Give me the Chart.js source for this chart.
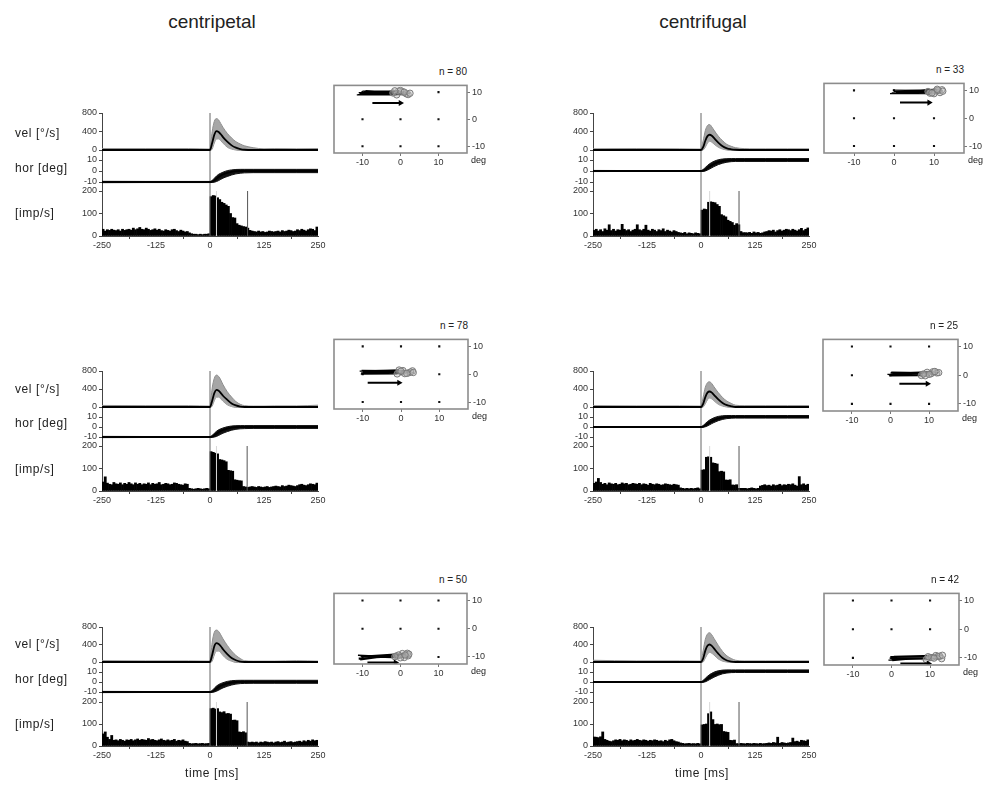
<!DOCTYPE html>
<html>
<head>
<meta charset="utf-8">
<script src="https://cdn.jsdelivr.net/npm/chart.js@4.4.1/dist/chart.umd.min.js"></script>
<style>
  body { margin: 0; background: #fff; width: 989px; height: 785px; position: relative; overflow: hidden;
         font-family: "Liberation Sans", Arial, sans-serif; color: #222; }
  canvas { position: absolute; }
  .lbl { position: absolute; white-space: nowrap; }
</style>
</head>
<body>
<script>
// ---- data ----
const titles = ["centripetal", "centrifugal"];
const nTrials = [80, 33, 78, 25, 50, 42];

const timeGrid = [-250, -150, -50, 0, 5, 10, 15, 20, 25, 30, 40, 50, 60, 70, 80, 100, 125, 150, 200, 250];
const timeTicks = [-250, -125, 0, 125, 250];
const velTicks = [0, 400, 800];
const horTicks = [-10, 0, 10];
const rateTicks = [0, 100, 200];
const fieldTicks = [-10, 0, 10];
const gridX = [-10, 0, 10];
const gridY = [10, 0, -10];
const binStart = -250;
const binMs = 5;

// eye velocity (deg/s): mean and spread of single traces
const velMeanCp1 = [0,0,0,0,150,330,410,390,340,280,180,100,50,20,5,0,0,0,0,0];
const velHiCp1 = [30,30,30,20,400,620,680,650,570,490,360,260,180,130,90,50,25,30,25,30];
const velLoCp1 = [-10,-10,-10,-10,20,150,240,240,200,150,60,20,0,-10,-10,-10,-10,-10,-10,-10];
const velMeanCf1 = [0,0,0,0,60,200,300,330,310,260,160,80,35,15,5,0,0,0,0,0];
const velHiCf1 = [25,30,25,20,200,420,530,550,500,430,300,200,120,80,50,30,25,25,25,25];
const velLoCf1 = [-10,-10,-10,-10,0,60,150,190,170,130,60,20,0,-10,-10,-10,-10,-10,-10,-10];
const velMeanCp2 = [0,0,0,0,140,310,380,360,310,250,160,80,35,10,0,0,0,0,0,0];
const velHiCp2 = [35,30,30,20,420,640,710,680,600,500,340,220,120,60,30,20,20,25,25,40];
const velLoCp2 = [-10,-10,-10,-10,20,140,220,220,180,130,50,10,-10,-10,-10,-10,-10,-10,-10,-10];
const velMeanCf2 = [0,0,0,0,70,220,320,345,320,270,170,90,40,15,0,0,0,0,0,0];
const velHiCf2 = [30,25,25,20,220,440,540,560,520,450,320,210,130,80,40,30,30,30,30,30];
const velLoCf2 = [-10,-10,-10,-10,0,70,160,200,180,140,60,20,0,-10,-10,-10,-10,-10,-10,-10];
const velMeanCp3 = [0,0,0,0,160,360,430,410,360,290,180,90,40,10,0,0,0,0,0,0];
const velHiCp3 = [30,25,25,20,450,680,730,700,620,530,380,250,150,80,30,20,20,20,30,20];
const velLoCp3 = [-10,-10,-10,-10,20,160,250,250,210,150,60,20,-10,-10,-10,-10,-10,-10,-10,-10];
const velMeanCf3 = [0,0,0,0,80,260,370,400,370,310,190,90,35,10,0,0,0,0,0,0];
const velHiCf3 = [40,25,25,20,260,520,640,670,620,540,380,240,140,80,40,25,25,25,25,25];
const velLoCf3 = [-10,-10,-10,-10,0,90,180,220,200,160,70,20,0,-10,-10,-10,-10,-10,-10,-10];

// horizontal eye position (deg)
const horMeanCp1 = [-10,-10,-10,-10,-9.6,-8.5,-7,-5.5,-4.2,-3.2,-1.8,-0.8,-0.2,0,0,0,0,0,0,0];
const horHiCp1 = [-9.4,-9.5,-9.5,-9.5,-8.6,-6.6,-4.6,-3,-2,-1.1,0.3,1,1.4,1.5,1.5,1.5,1.5,1.5,1.5,1.5];
const horLoCp1 = [-10.6,-10.5,-10.5,-10.5,-10.4,-10.2,-9.6,-8.7,-7.6,-6.5,-5,-3.6,-2.6,-2,-1.7,-1.5,-1.5,-1.5,-1.5,-1.5];
const horMeanCf1 = [0,0,0,0,0.3,1.2,2.6,4,5.3,6.4,8,9,9.6,9.9,10,10,10,10,10,10];
const horHiCf1 = [0.5,0.4,0.4,0.4,1.4,3.2,5,6.6,7.8,8.8,10.2,10.9,11.2,11.3,11.3,11.3,11.3,11.3,11.3,11.3];
const horLoCf1 = [-0.5,-0.4,-0.4,-0.4,-0.4,0,0.8,1.8,2.9,4,5.8,7.1,8,8.5,8.7,8.7,8.7,8.7,8.7,8.7];
const horMeanCp2 = [-10,-10,-10,-10,-9.5,-8.3,-6.8,-5.3,-4,-3,-1.6,-0.7,-0.2,0,0,0,0,0,0,0];
const horHiCp2 = [-9.4,-9.5,-9.5,-9.5,-8.4,-6.3,-4.3,-2.8,-1.8,-1,0.3,1,1.3,1.4,1.4,1.4,1.4,1.4,1.4,1.4];
const horLoCp2 = [-10.6,-10.5,-10.5,-10.5,-10.4,-10.1,-9.4,-8.4,-7.3,-6.2,-4.6,-3.2,-2.3,-1.8,-1.6,-1.4,-1.4,-1.4,-1.4,-1.4];
const horMeanCf2 = [0,0,0,0,0.4,1.5,3,4.5,5.8,6.9,8.5,9.4,9.9,10.1,10.2,10.2,10.2,10.2,10.2,10.2];
const horHiCf2 = [0.5,0.4,0.4,0.4,1.5,3.5,5.4,7,8.2,9.2,10.6,11.2,11.5,11.5,11.5,11.5,11.5,11.5,11.5,11.5];
const horLoCf2 = [-0.5,-0.4,-0.4,-0.4,-0.3,0.2,1.1,2.2,3.4,4.5,6.3,7.6,8.4,8.8,8.9,8.9,8.9,8.9,8.9,8.9];
const horMeanCp3 = [-10,-10,-10,-10,-9.5,-8.2,-6.6,-5,-3.8,-2.8,-1.4,-0.5,0,0.2,0.2,0.2,0.2,0.2,0.2,0.2];
const horHiCp3 = [-9.4,-9.5,-9.5,-9.5,-8.4,-6.2,-4.1,-2.5,-1.5,-0.7,0.6,1.3,1.6,1.7,1.7,1.7,1.7,1.7,1.7,1.7];
const horLoCp3 = [-10.6,-10.5,-10.5,-10.5,-10.4,-10,-9.2,-8.2,-7,-5.9,-4.3,-3,-2.1,-1.6,-1.4,-1.3,-1.3,-1.3,-1.3,-1.3];
const horMeanCf3 = [0,0,0,0,0.4,1.6,3.2,4.8,6.2,7.4,9,10,10.5,10.7,10.8,10.8,10.8,10.8,10.8,10.8];
const horHiCf3 = [0.5,0.4,0.4,0.4,1.6,3.7,5.7,7.4,8.7,9.8,11.2,11.9,12.1,12.1,12.1,12.1,12.1,12.1,12.1,12.1];
const horLoCf3 = [-0.5,-0.4,-0.4,-0.4,-0.3,0.2,1.2,2.4,3.6,4.8,6.7,8.2,9,9.4,9.5,9.5,9.5,9.5,9.5,9.5];

// firing rate (imp/s), 5 ms bins from -250 to 250
const rateCp1 = [30,22,28,25,30,26,24,28,22,30, 25,28,30,26,35,28,32,38,30,28,
  35,30,25,28,32,26,30,24,22,28, 25,22,28,30,24,20,26,22,18,20,
  14,10,8,8,6,8,6,8,8,10, 175,180,178,170,162,150,145,138,132,100,
  82,80,55,48,45,42,40,35,25,22, 20,18,22,18,20,16,18,22,20,18,
  20,22,18,24,20,22,26,24,20,22, 28,24,30,26,22,28,32,30,24,40];
const rateCf1 = [25,30,22,28,20,32,26,50,24,30, 22,28,26,52,30,24,28,20,26,30,
  50,28,24,30,48,26,22,30,26,20, 28,24,32,20,26,22,18,24,20,16,
  14,12,16,10,14,12,10,14,12,10, 115,120,118,150,152,150,148,140,132,95,
  90,85,70,65,60,48,55,50,20,15, 15,14,16,12,18,14,16,12,14,18,
  20,24,22,26,18,24,28,22,26,30, 28,24,30,26,22,28,34,24,30,36];
const rateCp2 = [40,63,35,30,28,38,32,30,36,28, 34,30,38,32,28,36,30,34,28,32,
  30,36,28,34,30,32,38,28,30,34, 32,28,30,36,34,30,28,26,32,30,
  12,10,8,10,12,10,8,10,12,10, 175,172,168,165,140,138,135,130,92,90,
  88,50,48,46,45,20,18,16,18,20, 18,16,20,18,16,18,20,16,18,20,
  22,20,18,24,20,22,26,24,22,20, 24,28,30,26,24,28,32,30,28,35];
const rateCf2 = [34,40,56,38,30,34,28,36,32,30, 34,28,30,36,32,34,28,30,34,32,
  30,34,28,32,30,26,34,30,28,32, 30,26,28,32,30,28,26,30,28,26,
  14,12,10,12,10,12,10,12,14,10, 93,95,150,152,150,125,123,120,86,88,
  85,49,48,50,27,26,28,12,12,12, 12,10,12,14,12,10,12,22,25,28,
  24,26,22,28,24,26,30,24,28,26, 30,28,32,26,22,64,28,32,26,30];
const rateCp3 = [55,64,40,30,48,26,28,24,30,26, 22,28,26,30,24,28,32,26,30,28,
  26,34,28,30,26,24,28,32,26,24, 28,24,26,30,22,26,24,28,22,20,
  12,10,11,12,10,11,12,10,11,12, 170,172,168,170,155,152,156,147,148,145,
  117,118,115,64,62,65,60,18,16,18, 16,18,14,18,16,20,18,16,18,14,
  18,20,16,18,22,16,18,20,16,18, 20,22,18,24,20,26,22,28,24,26];
const rateCf3 = [41,40,38,42,64,30,26,22,20,24, 28,26,30,24,28,26,22,28,24,26,
  30,26,24,28,26,22,26,24,28,26, 22,24,20,26,22,28,30,24,20,18,
  14,12,10,11,12,10,11,10,12,10, 96,98,100,147,155,120,98,100,97,98,
  66,64,62,26,25,27,11,10,12,11, 10,12,11,10,12,11,10,12,10,11,
  12,14,12,16,14,40,12,16,14,12, 14,16,36,20,22,18,26,24,22,28];

// marker times (ms): saccade end and peak velocity
const endMark = [87, 88, 86, 88, 86, 88];
const peakMark = [15, 20, 15, 20, 15, 20];

// saccade trajectories in the visual field (deg)
const trajSxCp1 = [-11.5,-11,-10.5,-10,-10.8,-9.6,-11.2,-10.2,-9.2,-10.6];
const trajSyCp1 = [9.0,9.8,9.3,10.4,9.5,10.0,9.1,9.7,10.6,9.4];
const trajExCp1 = [-1,0.5,1.5,-0.5,2,0,-2,1,2.5,-1.5];
const trajEyCp1 = [9.0,10.2,9.4,10.4,9.1,10.6,9.7,10.0,9.6,10.5];
const trajSxCf1 = [-1,0,-0.5,0.5,1,-0.8,0.2,0.8,-0.3,0.6];
const trajSyCf1 = [8.8,9.6,9.0,10.0,9.4,8.9,9.8,9.2,10.1,9.5];
const trajExCf1 = [9,10.5,11.5,12,8.5,10,11,9.5,12.2,10.8];
const trajEyCf1 = [9.0,9.8,9.2,10.2,9.6,8.8,10.0,9.1,9.7,10.4];
const trajSxCp2 = [-10.5,-10,-9.8,-10.3,-9.5,-10.8,-10.1,-9.7,-10.4,-9.9];
const trajSyCp2 = [0.0,0.9,0.3,1.4,0.6,1.1,0.2,1.3,0.5,0.9];
const trajExCp2 = [-1,0.5,2,3,1,-0.5,2.5,1.5,0,3.2];
const trajEyCp2 = [0.1,1.3,0.5,1.2,0.2,1.5,0.8,0.3,1.1,0.6];
const trajSxCf2 = [-0.3,0.5,-0.8,0.2,1,0,-0.5,0.7,0.3,-0.2];
const trajSyCf2 = [-0.2,0.7,0.3,1.1,0.0,0.8,0.2,1.0,0.5,-0.1];
const trajExCf2 = [8,9.5,10.5,12,11,9,12.5,10,11.5,8.5];
const trajEyCf2 = [-0.1,1.0,0.5,0.8,1.2,-0.2,0.9,0.3,1.3,0.4];
const trajSxCp3 = [-11,-10.5,-10,-11.2,-9.8,-10.6,-10.2,-11,-9.6,-10.4];
const trajSyCp3 = [-10.8,-9.8,-10.5,-9.4,-10.1,-11,-9.9,-10.4,-10.2,-9.6];
const trajExCp3 = [-1,0.5,2,1,-0.5,1.8,0,2.2,-1.5,1.2];
const trajEyCp3 = [-9.6,-8.8,-9.6,-10.2,-9.3,-8.7,-10.3,-9.0,-9.9,-9.3];
const trajSxCf3 = [-0.8,0,0.5,-0.3,0.8,0.2,-0.5,0.6,0.1,-0.2];
const trajSyCf3 = [-10.8,-10,-10.6,-9.6,-10.2,-11,-10.1,-9.5,-10.5,-10.3];
const trajExCf3 = [10,11.5,13,12,9,12.5,10.5,13.2,11,9.5];
const trajEyCf3 = [-9.9,-9.2,-10.3,-9.5,-10.6,-9.4,-9.9,-9.1,-10.1,-9.6];

// direction arrows: [x0, x1, y]
const arrowCp1 = [-7.4, 0, 6];
const arrowCf1 = [1.5, 8.8, 5.6];
const arrowCp2 = [-8.7, -0.5, -3.1];
const arrowCf2 = [2.3, 9.6, -3];
const arrowCp3 = [-8.7, -1.3, -12];
const arrowCf3 = [2.3, 9.6, -12];

// ---- layout ----
const rows = [
  { velTop: 113, velZero: 150, horTop: 160, horBot: 182, rateTop: 191, rateZero: 236, textY: [133, 168, 213] },
  { velTop: 371, velZero: 407, horTop: 417, horBot: 437, rateTop: 446, rateZero: 491, textY: [389, 423, 469] },
  { velTop: 627, velZero: 662, horTop: 672, horBot: 692, rateTop: 702, rateZero: 746, textY: [644, 679, 724] }
];
const cols = [{ x0: 102, x1: 318 }, { x0: 593, x1: 809 }];
const boxes = [[334, 81, 467, 153], [824, 79, 964, 153], [334, 335, 468, 409],
               [823, 335, 958, 411], [334, 589, 467, 664], [824, 589, 959, 665]];

const panels = [
  { vel: [velMeanCp1, velHiCp1, velLoCp1], hor: [horMeanCp1, horHiCp1, horLoCp1], rate: rateCp1,
    traj: [trajSxCp1, trajSyCp1, trajExCp1, trajEyCp1], arrow: arrowCp1 },
  { vel: [velMeanCf1, velHiCf1, velLoCf1], hor: [horMeanCf1, horHiCf1, horLoCf1], rate: rateCf1,
    traj: [trajSxCf1, trajSyCf1, trajExCf1, trajEyCf1], arrow: arrowCf1 },
  { vel: [velMeanCp2, velHiCp2, velLoCp2], hor: [horMeanCp2, horHiCp2, horLoCp2], rate: rateCp2,
    traj: [trajSxCp2, trajSyCp2, trajExCp2, trajEyCp2], arrow: arrowCp2 },
  { vel: [velMeanCf2, velHiCf2, velLoCf2], hor: [horMeanCf2, horHiCf2, horLoCf2], rate: rateCf2,
    traj: [trajSxCf2, trajSyCf2, trajExCf2, trajEyCf2], arrow: arrowCf2 },
  { vel: [velMeanCp3, velHiCp3, velLoCp3], hor: [horMeanCp3, horHiCp3, horLoCp3], rate: rateCp3,
    traj: [trajSxCp3, trajSyCp3, trajExCp3, trajEyCp3], arrow: arrowCp3 },
  { vel: [velMeanCf3, velHiCf3, velLoCf3], hor: [horMeanCf3, horHiCf3, horLoCf3], rate: rateCf3,
    traj: [trajSxCf3, trajSyCf3, trajExCf3, trajEyCf3], arrow: arrowCf3 }
];

Chart.defaults.font.family = '"Liberation Sans", Arial, sans-serif';
Chart.defaults.font.size = 9;
Chart.defaults.color = '#333';

function addCanvas(x, y, w, h) {
  const c = document.createElement('canvas');
  c.width = w;
  c.height = h;
  c.style.left = x + 'px';
  c.style.top = y + 'px';
  document.body.appendChild(c);
  return c;
}

function addText(str, x, y, size, align, extra) {
  const d = document.createElement('div');
  d.className = 'lbl';
  d.textContent = str;
  d.style.left = x + 'px';
  d.style.top = y + 'px';
  d.style.fontSize = size + 'px';
  const tx = align === 'center' ? '-50%' : align === 'right' ? '-100%' : '0';
  d.style.transform = 'translate(' + tx + ',-50%)';
  if (extra) Object.assign(d.style, extra);
  document.body.appendChild(d);
}

// axis range so that value v1 sits at pixel p1 and v2 at p2, for an area top..bot
function span(top, bot, v1, p1, v2, p2) {
  const k = (v1 - v2) / (p2 - p1);
  return { max: v1 + (p1 - top) * k, min: v2 - (bot - p2) * k };
}

function pts(xs, ys) {
  return xs.map((x, i) => ({ x: x, y: ys[i] }));
}

const AXW = 28;

function timeChart(col, top, bot, range, ticks, datasets, type, showX) {
  // bottom padding keeps the last tick label from squeezing the plot area
  const padT = 8, padR = showX ? 14 : 2, padB = showX ? 0 : 8;
  const xh = showX ? 14 : 0;
  const c = addCanvas(col.x0 - AXW, top - padT, AXW + (col.x1 - col.x0) + padR, padT + (bot - top) + xh + padB);
  return new Chart(c, {
    type: type,
    data: { datasets: datasets },
    options: {
      responsive: false,
      animation: false,
      events: [],
      layout: { autoPadding: false, padding: { top: padT, right: padR, bottom: padB, left: 0 } },
      plugins: { legend: { display: false }, tooltip: { enabled: false } },
      scales: {
        x: {
          type: 'linear', min: -250, max: 250, offset: false, display: showX,
          afterFit: s => { s.height = xh; },
          afterBuildTicks: s => { s.ticks = timeTicks.map(v => ({ value: v })); },
          ticks: { padding: 1, maxRotation: 0 },
          grid: { drawOnChartArea: false, tickLength: 3, color: '#444' },
          border: { color: '#444' }
        },
        y: {
          min: range.min, max: range.max,
          afterFit: s => { s.width = AXW; },
          afterBuildTicks: s => { s.ticks = ticks.map(v => ({ value: v })); },
          ticks: { padding: 2 },
          grid: { drawOnChartArea: false, tickLength: 3, color: '#444' },
          border: { color: '#444' }
        }
      }
    }
  });
}

function traceSets(trio, range, bandColor, lineColor) {
  return [
    { data: pts(timeGrid, trio[0]), borderColor: '#000', borderWidth: 1.8, pointRadius: 0,
      cubicInterpolationMode: 'monotone', order: 0 },
    { data: [{ x: 0, y: range.min }, { x: 0, y: range.max }], borderColor: '#666', borderWidth: 1,
      pointRadius: 0, order: 1 },
    { data: pts(timeGrid, trio[1]), borderColor: lineColor, borderWidth: 1, backgroundColor: bandColor,
      fill: '+1', pointRadius: 0, cubicInterpolationMode: 'monotone', order: 2 },
    { data: pts(timeGrid, trio[2]), borderColor: lineColor, borderWidth: 1, pointRadius: 0,
      cubicInterpolationMode: 'monotone', order: 3 }
  ];
}

const boxPlugin = {
  id: 'fieldBox',
  afterDraw(chart) {
    const a = chart.chartArea, ctx = chart.ctx;
    ctx.save();
    ctx.strokeStyle = '#8c8c8c';
    ctx.lineWidth = 1.6;
    ctx.strokeRect(a.left, a.top, a.right - a.left, a.bottom - a.top);
    ctx.restore();
  }
};

function fieldChart(b, p) {
  const padL = 3, padT = 3, YW = 22, XH = 14;
  const c = addCanvas(b[0] - padL, b[1] - padT, padL + (b[2] - b[0]) + YW, padT + (b[3] - b[1]) + XH);
  const dots = [];
  gridY.forEach(y => gridX.forEach(x => dots.push({ x: x, y: y })));
  const t = p.traj, lines = [], ends = [];
  for (let i = 0; i < t[0].length; i++) {
    lines.push({ x: t[0][i], y: t[1][i] }, { x: t[2][i], y: t[3][i] }, { x: t[2][i], y: null });
    ends.push({ x: t[2][i], y: t[3][i] });
  }
  const a = p.arrow;
  new Chart(c, {
    type: 'scatter',
    data: {
      datasets: [
        { data: [{ x: a[0], y: a[2] }, { x: a[1], y: a[2] }], showLine: true, borderColor: '#000',
          borderWidth: 2, pointRadius: [0, 3.5], pointStyle: 'triangle', rotation: 90,
          pointBackgroundColor: '#000', pointBorderWidth: 0, order: 0 },
        { data: ends, pointRadius: 3.2, pointStyle: 'circle', borderColor: '#7a7a7a', borderWidth: 1,
          backgroundColor: 'rgba(190,190,190,0.45)', order: 1 },
        { data: lines, showLine: true, spanGaps: false, borderColor: '#000', borderWidth: 1.3,
          pointRadius: 0, order: 2 },
        { data: dots, pointStyle: 'rect', pointRadius: 1.5, backgroundColor: '#111', borderWidth: 0, order: 3 }
      ]
    },
    options: {
      responsive: false,
      animation: false,
      events: [],
      layout: { autoPadding: false, padding: { top: padT, left: padL, right: 0, bottom: 0 } },
      plugins: { legend: { display: false }, tooltip: { enabled: false } },
      scales: {
        x: {
          type: 'linear', min: -17.5, max: 17.5,
          afterFit: s => { s.height = XH; },
          afterBuildTicks: s => { s.ticks = fieldTicks.map(v => ({ value: v })); },
          ticks: { padding: 1 },
          grid: { drawOnChartArea: false, tickLength: 3, color: '#777' },
          border: { display: false }
        },
        y: {
          position: 'right', min: -12.5, max: 12.5,
          afterFit: s => { s.width = YW; },
          afterBuildTicks: s => { s.ticks = fieldTicks.map(v => ({ value: v })); },
          ticks: { padding: 2 },
          grid: { drawOnChartArea: false, tickLength: 3, color: '#777' },
          border: { display: false }
        }
      }
    },
    plugins: [boxPlugin]
  });
}

// ---- build ----
addText(titles[0], 212, 22, 19, 'center');
addText(titles[1], 703, 22, 19, 'center');

panels.forEach((p, i) => {
  const row = rows[Math.floor(i / 2)];
  const col = cols[i % 2];
  const velBot = row.velZero + 5;
  const horBot = row.horBot + 4;

  const vr = span(row.velTop, velBot, 800, row.velTop, 0, row.velZero);
  timeChart(col, row.velTop, velBot, vr, velTicks, traceSets(p.vel, vr, '#a6a6a6', '#8e8e8e'), 'line', false);

  const hr = span(velBot, horBot, 10, row.horTop, -10, row.horBot);
  timeChart(col, velBot, horBot, hr, horTicks, traceSets(p.hor, hr, '#111', '#111'), 'line', false);

  const rr = span(horBot, row.rateZero, 200, row.rateTop, 0, row.rateZero);
  const bars = p.rate.map((v, k) => ({ x: binStart + binMs * k + binMs / 2, y: v }));
  timeChart(col, horBot, row.rateZero, rr, rateTicks, [
    { type: 'line', data: [{ x: peakMark[i], y: 0 }, { x: peakMark[i], y: 200 }], borderColor: '#d8d8d8',
      borderWidth: 1, pointRadius: 0, order: 0 },
    { type: 'line', data: [{ x: 0, y: 0 }, { x: 0, y: rr.max }], borderColor: '#666', borderWidth: 1,
      pointRadius: 0, order: 1 },
    { type: 'line', data: [{ x: endMark[i], y: 0 }, { x: endMark[i], y: 200 }], borderColor: '#555',
      borderWidth: 1, pointRadius: 0, order: 2 },
    { type: 'bar', data: bars, backgroundColor: '#000', barPercentage: 1, categoryPercentage: 1, order: 3 }
  ], 'bar', true);

  const b = boxes[i];
  fieldChart(b, p);
  addText('n = ' + nTrials[i], b[2], b[1] - 10, 10, 'right');
  addText('deg', b[2] + 4, b[3] + 7, 9, 'left');

  if (i % 2 === 0) {
    const sideStyle = { letterSpacing: '0.6px' };
    addText('vel [°/s]', 15, row.textY[0], 12, 'left', sideStyle);
    addText('hor [deg]', 15, row.textY[1], 12, 'left', sideStyle);
    addText('[imp/s]', 15, row.textY[2], 12, 'left', sideStyle);
  }
});

addText('time [ms]', 212, 773, 12, 'center', { letterSpacing: '0.6px' });
addText('time [ms]', 702, 773, 12, 'center', { letterSpacing: '0.6px' });
</script>
</body>
</html>
